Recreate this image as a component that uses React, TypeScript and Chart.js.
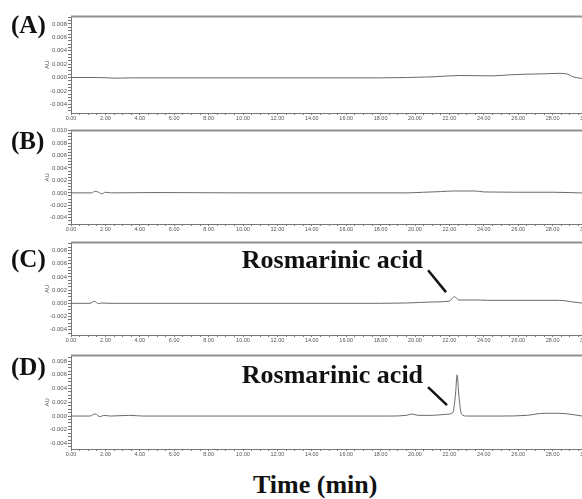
import React, { useEffect, useRef } from "react";
import { Chart, registerables } from "chart.js";

Chart.register(...registerables);

// ---- Data (retention time in min, absorbance in AU) ----
const timeA = [0, 1.5, 2.2, 2.6, 3.5, 10, 18, 19.5, 21, 22.6, 24.5, 25.5, 26.5, 27.5, 28.3, 28.8, 29.2, 29.6, 30];
const auA = [0, 0, -0.00005, -0.0001, -0.00005, -0.00005, -0.00005, 0, 0.0001, 0.0003, 0.00025, 0.0004, 0.0005, 0.00055, 0.00062, 0.00055, 0.0001, -0.0001, -0.0002];

const timeB = [0, 1.2, 1.4, 1.6, 1.8, 2.0, 2.3, 5, 10, 19.5, 20.5, 21.5, 22.2, 23.5, 24, 25, 26, 28, 29, 30];
const auB = [0, 0, 0.00025, 0.0001, -0.00015, 0.0001, 0, 0.00005, 0, 0, 0.0001, 0.0002, 0.0003, 0.0003, 0.00015, 0.00012, 0.0001, 0.0001, 0.00005, -0.00005];

const timeC = [0, 1.1, 1.35, 1.6, 1.8, 2.2, 5, 10, 18, 19.5, 21, 22.0, 22.3, 22.55, 23.8, 24.2, 26, 28.4, 29.2, 30];
const auC = [0, 0, 0.0003, -0.00005, 0.00005, 0, 0, 0, 0, 0.00005, 0.0002, 0.00035, 0.001, 0.0005, 0.0005, 0.00045, 0.00045, 0.00045, 0.0002, -0.00005];

const timeD = [0, 1.1, 1.4, 1.7, 1.9, 2.3, 3.4, 3.8, 4.2, 10, 18.5, 19.5, 19.8, 20.2, 21, 21.8, 22.2, 22.35, 22.45, 22.55, 22.7, 23.0, 25, 26.5, 27.5, 28.4, 29.2, 30];
const auD = [0, 0, 0.0003, -0.0001, 0.0001, 0, 0.0001, 0.00005, 0, 0, 0, 0.0001, 0.0003, 0.0001, 0.0001, 0.00025, 0.0005, 0.003, 0.006, 0.003, 0.0003, 0, 0, 0.0001, 0.0004, 0.0004, 0.0002, -0.0001];

const panelLabels = ["(A)", "(B)", "(C)", "(D)"];
const peakName = "Rosmarinic acid";
const yAxisTitle = "AU";
const xAxisTitle = "Time (min)";

const X_MIN = 0;
const X_MAX = 30;

type Annot = { textT: number; textV: number; from: [number, number]; to: [number, number] };
type PanelSpec = {
  label: string;
  times: number[];
  values: number[];
  yMin: number;
  yMax: number;
  top: number;
  bottom: number;
  labelBaseline: number;
  annot?: Annot;
};

const PAD_TOP = 4;
const X_AXIS_H = 12;
const Y_AXIS_W = 71;
const CANVAS_W = 600;
const PAD_RIGHT = 13;

function Panel({ spec }: { spec: PanelSpec }) {
  const ref = useRef<HTMLCanvasElement | null>(null);
  const canvasTop = spec.top - PAD_TOP;
  const canvasH = PAD_TOP + (spec.bottom - spec.top) + X_AXIS_H;

  useEffect(() => {
    if (!ref.current) return;
    const decor = {
      id: "decor",
      afterDraw(chart: any) {
        const { ctx, chartArea: a, scales } = chart;
        ctx.save();
        // top frame line
        ctx.strokeStyle = "#8f8f8f";
        ctx.lineWidth = 2;
        ctx.beginPath();
        ctx.moveTo(a.left, a.top);
        ctx.lineTo(CANVAS_W, a.top);
        ctx.stroke();
        ctx.restore();

        // AU axis title
        ctx.save();
        ctx.translate(47, (a.top + a.bottom) / 2);
        ctx.rotate(-Math.PI / 2);
        ctx.font = '6px "Liberation Sans"';
        ctx.fillStyle = "#555";
        ctx.textAlign = "center";
        ctx.textBaseline = "middle";
        ctx.fillText(yAxisTitle, 0, 0);
        ctx.restore();

        // panel label
        ctx.save();
        ctx.font = 'bold 25px "Liberation Serif"';
        ctx.fillStyle = "#111";
        ctx.textAlign = "left";
        ctx.textBaseline = "alphabetic";
        ctx.fillText(spec.label, 11, spec.labelBaseline - canvasTop);
        ctx.restore();

        if (spec.annot) {
          const x = scales.x;
          const y = scales.y;
          const an = spec.annot;
          ctx.save();
          ctx.font = 'bold 26px "Liberation Serif"';
          ctx.fillStyle = "#111";
          ctx.textAlign = "right";
          ctx.textBaseline = "alphabetic";
          ctx.fillText(peakName, x.getPixelForValue(an.textT), y.getPixelForValue(an.textV));
          ctx.strokeStyle = "#111";
          ctx.lineWidth = 2.5;
          ctx.beginPath();
          ctx.moveTo(x.getPixelForValue(an.from[0]), y.getPixelForValue(an.from[1]));
          ctx.lineTo(x.getPixelForValue(an.to[0]), y.getPixelForValue(an.to[1]));
          ctx.stroke();
          ctx.restore();
        }
      },
    };

    const isMajorY = (v: number) => Math.abs(Math.round(v / 0.002) * 0.002 - v) < 1e-9;

    const chart = new Chart(ref.current, {
      type: "line",
      data: {
        datasets: [
          {
            data: spec.times.map((t, i) => ({ x: t, y: spec.values[i] })),
            borderColor: "#6a6a6a",
            borderWidth: 1,
            pointRadius: 0,
            cubicInterpolationMode: "monotone",
            fill: false,
          },
        ],
      },
      options: {
        responsive: false,
        animation: false,
        layout: { padding: { top: PAD_TOP, right: PAD_RIGHT, left: 0, bottom: 0 } },
        plugins: { legend: { display: false }, tooltip: { enabled: false } },
        scales: {
          x: {
            type: "linear",
            min: X_MIN,
            max: X_MAX,
            afterBuildTicks: (s: any) => {
              const t = [];
              for (let k = 0; k <= 60; k++) t.push({ value: k * 0.5 });
              s.ticks = t;
            },
            afterFit: (s: any) => {
              s.height = X_AXIS_H;
            },
            ticks: {
              autoSkip: false,
              maxRotation: 0,
              padding: 0,
              color: "#555",
              font: { size: 5.5, family: '"Liberation Sans"' },
              callback: (v: any) => (Math.abs(v % 2) < 1e-9 ? Number(v).toFixed(2) : ""),
            },
            grid: { drawOnChartArea: false, tickLength: 2, color: "#777" },
            border: { color: "#777", width: 1 },
          },
          y: {
            type: "linear",
            min: spec.yMin,
            max: spec.yMax,
            afterBuildTicks: (s: any) => {
              const t = [];
              for (let k = Math.ceil(spec.yMin / 0.0005); k * 0.0005 <= spec.yMax + 1e-12; k++) {
                t.push({ value: Math.round(k * 5) / 10000 });
              }
              s.ticks = t;
            },
            afterFit: (s: any) => {
              s.width = Y_AXIS_W;
            },
            ticks: {
              autoSkip: false,
              padding: 1,
              color: "#555",
              font: { size: 6, family: '"Liberation Sans"' },
              callback: (v: any) => (isMajorY(Number(v)) ? Number(v).toFixed(3) : ""),
            },
            grid: { drawOnChartArea: false, tickLength: 3, color: "#777" },
            border: { color: "#777", width: 1 },
          },
        },
      },
      plugins: [decor],
    } as any);
    return () => chart.destroy();
  }, []);

  return (
    <canvas
      ref={ref}
      width={CANVAS_W}
      height={canvasH}
      style={{ position: "absolute", left: 0, top: canvasTop, width: CANVAS_W, height: canvasH }}
    />
  );
}

const panels: PanelSpec[] = [
  { label: panelLabels[0], times: timeA, values: auA, yMin: -0.0053, yMax: 0.0091, top: 16, bottom: 113, labelBaseline: 33 },
  { label: panelLabels[1], times: timeB, values: auB, yMin: -0.005, yMax: 0.010, top: 130, bottom: 224, labelBaseline: 149 },
  {
    label: panelLabels[2], times: timeC, values: auC, yMin: -0.0048, yMax: 0.0092, top: 242, bottom: 335, labelBaseline: 267,
    annot: { textT: 20.47, textV: 0.0053, from: [20.76, 0.005], to: [21.8, 0.0017] },
  },
  {
    label: panelLabels[3], times: timeD, values: auD, yMin: -0.0048, yMax: 0.0088, top: 355, bottom: 449, labelBaseline: 375,
    annot: { textT: 20.47, textV: 0.0048, from: [20.76, 0.0042], to: [21.86, 0.0016] },
  },
];

export default function App() {
  return (
    <div
      style={{
        position: "fixed",
        left: 0,
        top: 0,
        width: 582,
        height: 499,
        overflow: "hidden",
        background: "#fff",
      }}
    >
      {panels.map((p) => (
        <Panel key={p.label} spec={p} />
      ))}
      <div
        style={{
          position: "absolute",
          left: 253,
          top: 472,
          font: 'bold 26px "Liberation Serif"',
          lineHeight: "26px",
          whiteSpace: "nowrap",
          color: "#111",
        }}
      >
        {xAxisTitle}
      </div>
    </div>
  );
}
